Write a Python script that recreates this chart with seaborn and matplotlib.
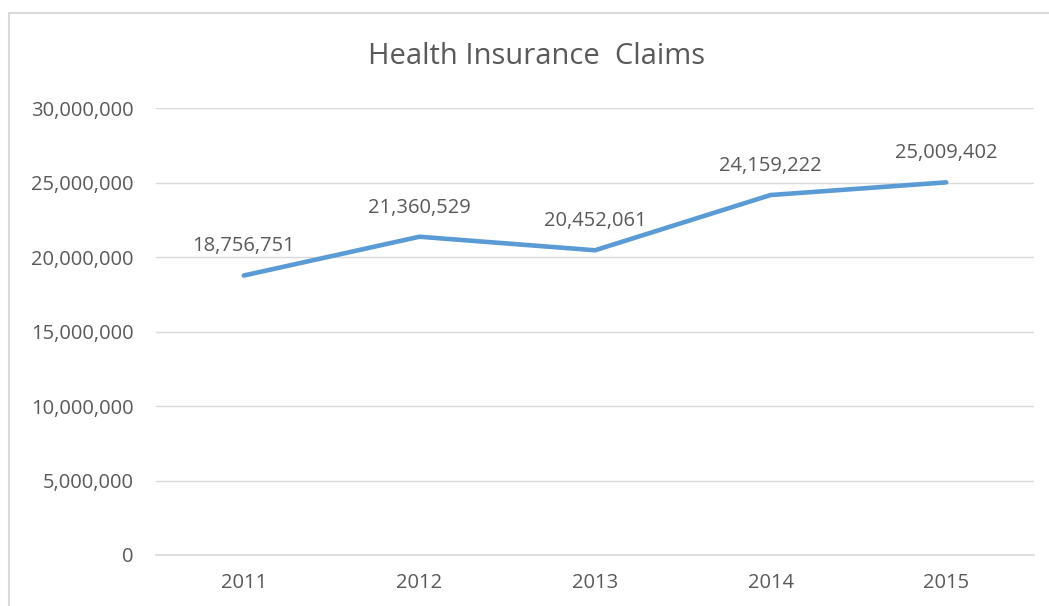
import matplotlib
matplotlib.use("Agg")
import matplotlib.pyplot as plt
import seaborn as sns
import pandas as pd
from matplotlib.lines import Line2D
from matplotlib.ticker import FuncFormatter

years = ["2011", "2012", "2013", "2014", "2015"]
claims = [18756751, 21360529, 20452061, 24159222, 25009402]

sns.set_theme(style="white")
plt.rcParams['font.family'] = ['Open Sans', 'DejaVu Sans']

TEXT = "#595959"
GRID = "#D9D9D9"
LINE = "#5B9BD5"

df = pd.DataFrame({"Year": years, "Claims": claims})

fig = plt.figure(figsize=(10.49, 6.06), dpi=100)
ax = fig.add_axes([156 / 1049, 1 - 555 / 606, (1034 - 156) / 1049, (555 - 108) / 606])

sns.lineplot(data=df, x="Year", y="Claims", ax=ax, color=LINE, linewidth=3.3,
             sort=False, solid_capstyle="round")

ax.set_xlim(-0.5, len(years) - 0.5)
ax.set_ylim(0, 30000000)
ax.set_yticks(range(0, 30000001, 5000000))
ax.yaxis.set_major_formatter(FuncFormatter(lambda v, p: f"{int(v):,}"))
ax.grid(axis="y", color=GRID, linewidth=1)
ax.set_axisbelow(True)
for s in ax.spines.values():
    s.set_visible(False)
ax.spines["bottom"].set_visible(True)
ax.spines["bottom"].set_color(GRID)
ax.tick_params(axis="both", length=0, colors=TEXT, labelsize=14.5)
ax.tick_params(axis="y", pad=16)
ax.tick_params(axis="x", pad=13)
ax.set_xlabel("")
ax.set_ylabel("")

for i, v in enumerate(claims):
    ax.annotate(f"{v:,}", (i, v), xytext=(0, 21), textcoords="offset points",
                ha="center", va="center", fontsize=14.5, color=TEXT)

fig.text(537 / 1049, 1 - 57 / 606, "Health Insurance  Claims", ha="center", va="center",
         fontsize=21, color=TEXT)

# outer chart-area border (left and top visible)
fig.add_artist(Line2D([9 / 1049, 9 / 1049], [0, 1 - 13 / 606], transform=fig.transFigure,
                      color=GRID, linewidth=1.5))
fig.add_artist(Line2D([9 / 1049, 1], [1 - 13 / 606, 1 - 13 / 606], transform=fig.transFigure,
                      color=GRID, linewidth=1.5))

fig.savefig("out.png", dpi=100, facecolor="white")
